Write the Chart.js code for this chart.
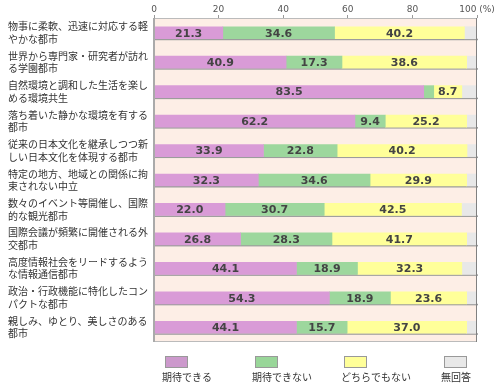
<!DOCTYPE html>
<html>
<head>
<meta charset="utf-8">
<script src="https://cdn.jsdelivr.net/npm/chart.js@4.4.0/dist/chart.umd.min.js"></script>
<style>
  html, body { margin: 0; padding: 0; background: #fff; }
  #wrap { width: 500px; height: 390px; }
</style>
</head>
<body>
<div id="wrap"><canvas id="cityChart" width="500" height="390"></canvas></div>
<script>
// 回答項目
const categories = [
    ['物事に柔軟、迅速に対応する軽', 'やかな都市'],
    ['世界から専門家・研究者が訪れ', 'る学園都市'],
    ['自然環境と調和した生活を楽し', 'める環境共生'],
    ['落ち着いた静かな環境を有する', '都市'],
    ['従来の日本文化を継承しつつ新', 'しい日本文化を体現する都市'],
    ['特定の地方、地域との関係に拘', '束されない中立'],
    ['数々のイベント等開催し、国際', '的な観光都市'],
    ['国際会議が頻繁に開催される外', '交都市'],
    ['高度情報社会をリードするよう', 'な情報通信都市'],
    ['政治・行政機能に特化したコン', 'パクトな都市'],
    ['親しみ、ゆとり、美しさのある', '都市']
];
const seriesNames = ['期待できる', '期待できない', 'どちらでもない', '無回答'];
const expected    = [21.3, 40.9, 83.5, 62.2, 33.9, 32.3, 22.0, 26.8, 44.1, 54.3, 44.1];
const notExpected = [34.6, 17.3, 3.1, 9.4, 22.8, 34.6, 30.7, 28.3, 18.9, 18.9, 15.7];
const neither     = [40.2, 38.6, 8.7, 25.2, 40.2, 29.9, 42.5, 41.7, 32.3, 23.6, 37.0];
const noAnswer    = [3.9, 3.2, 4.7, 3.2, 3.1, 3.2, 4.8, 3.2, 4.7, 3.2, 3.2];
const xTicks = [0, 20, 40, 60, 80, 100];

const colors = ['#d99bd7', '#9dd79d', '#ffff99', '#e8e8e8'];
const legendBoxColors = ['#cc99cc', '#99d699', '#ffff99', '#e8e8e8'];
const cjk = '"Noto Sans CJK JP", "Noto Sans", sans-serif';

// 背景と枠
const plotBg = {
    id: 'plotBg',
    beforeDatasetsDraw(chart) {
        const { ctx, chartArea: a } = chart;
        ctx.save();
        ctx.fillStyle = '#fdeee6';
        ctx.fillRect(a.left, a.top, a.right - a.left, a.bottom - a.top);
        // 棒の影
        const x = chart.scales.x;
        const meta = chart.getDatasetMeta(0);
        ctx.fillStyle = '#9c9c9c';
        meta.data.forEach(bar => {
            const bottom = bar.y + bar.height / 2;
            ctx.fillRect(x.getPixelForValue(0) + 1, bottom, x.getPixelForValue(100) - x.getPixelForValue(0), 1.5);
        });
        ctx.restore();
    },
    afterDatasetsDraw(chart) {
        const { ctx, chartArea: a } = chart;
        ctx.save();
        ctx.strokeStyle = '#bbbbbb';
        ctx.lineWidth = 1;
        ctx.beginPath();
        ctx.moveTo(a.left, a.top + 0.5);
        ctx.lineTo(a.right, a.top + 0.5);
        ctx.moveTo(a.left, a.bottom - 0.5);
        ctx.lineTo(a.right, a.bottom - 0.5);
        ctx.stroke();
        ctx.strokeStyle = '#aaaaaa';
        ctx.lineWidth = 2;
        ctx.beginPath();
        ctx.moveTo(a.left, a.top);
        ctx.lineTo(a.left, a.bottom);
        ctx.stroke();
        ctx.strokeStyle = '#808080';
        ctx.lineWidth = 1;
        ctx.beginPath();
        ctx.moveTo(a.right - 0.5, a.top);
        ctx.lineTo(a.right - 0.5, a.bottom);
        ctx.stroke();
        ctx.restore();
    }
};

// 数値ラベル
const valueLabels = {
    id: 'valueLabels',
    afterDatasetsDraw(chart) {
        const { ctx } = chart;
        ctx.save();
        ctx.font = 'bold 11px "DejaVu Sans", Verdana, sans-serif';
        ctx.fillStyle = '#444';
        ctx.textAlign = 'center';
        ctx.textBaseline = 'middle';
        for (let d = 0; d < 3; d++) {
            const meta = chart.getDatasetMeta(d);
            meta.data.forEach((bar, i) => {
                const v = chart.data.datasets[d].data[i];
                if (v < 5) return;
                ctx.fillText(v.toFixed(1), (bar.x + bar.base) / 2, bar.y + 1);
            });
        }
        ctx.restore();
    }
};

// 凡例
const bottomLegend = {
    id: 'bottomLegend',
    afterDraw(chart) {
        const { ctx } = chart;
        const boxX = [165, 255, 344, 444];
        ctx.save();
        ctx.font = '10px ' + cjk;
        ctx.textAlign = 'left';
        ctx.textBaseline = 'middle';
        seriesNames.forEach((name, i) => {
            ctx.fillStyle = legendBoxColors[i];
            ctx.fillRect(boxX[i], 356, 22, 11);
            ctx.strokeStyle = '#999';
            ctx.lineWidth = 1;
            ctx.strokeRect(boxX[i] + 0.5, 356.5, 22, 11);
            ctx.fillStyle = '#333';
            ctx.fillText(name, boxX[i] - 3, 377);
        });
        ctx.restore();
    }
};

const ctx = document.getElementById('cityChart').getContext('2d');
const cityChart = new Chart(ctx, {
    type: 'bar',
    data: {
        labels: categories,
        datasets: [expected, notExpected, neither, noAnswer].map((vals, i) => ({
            label: seriesNames[i],
            data: vals,
            backgroundColor: colors[i],
            borderWidth: 0,
            barThickness: 12
        }))
    },
    options: {
        indexAxis: 'y',
        responsive: false,
        animation: false,
        layout: { padding: { left: 8, right: 23, top: 0, bottom: 48 } },
        scales: {
            x: {
                position: 'top',
                stacked: true,
                min: 0,
                max: 100,
                afterBuildTicks: scale => { scale.ticks = xTicks.map(v => ({ value: v })); },
                afterFit: scale => { scale.height = 18; },
                grid: { drawOnChartArea: false, tickLength: 3, color: '#999' },
                border: { display: false },
                ticks: {
                    padding: 0,
                    color: '#555',
                    font: { size: 9, family: '"DejaVu Sans", sans-serif' },
                    callback: v => v === 100 ? '100 (%)' : v
                }
            },
            y: {
                stacked: true,
                afterFit: scale => { scale.width = 146; },
                grid: { display: false },
                border: { display: false },
                ticks: {
                    crossAlign: 'far',
                    color: '#333',
                    font: { size: 10, family: cjk, lineHeight: 1.25 }
                }
            }
        },
        plugins: {
            legend: { display: false },
            tooltip: { enabled: false }
        }
    },
    plugins: [plotBg, valueLabels, bottomLegend]
});
</script>
</body>
</html>
